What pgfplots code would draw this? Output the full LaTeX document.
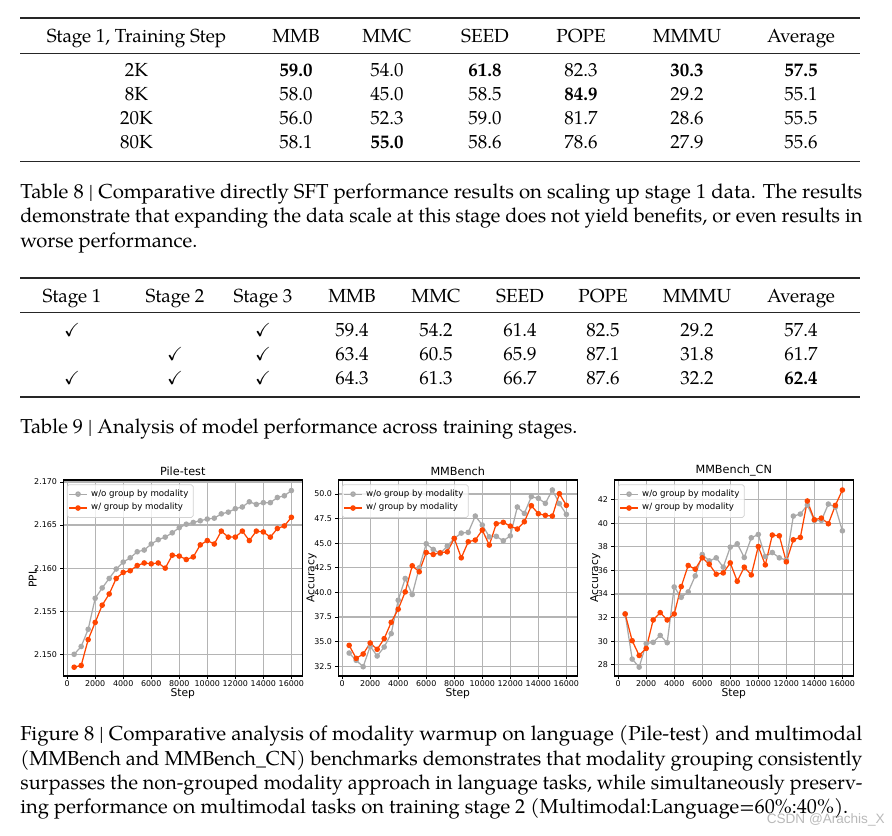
\documentclass[border=0pt]{standalone}
\usepackage{fontspec}
\setmainfont{TeX Gyre Pagella}
\newfontfamily\plotfont{DejaVu Sans}
\newfontfamily\wmfont{Liberation Sans}
\usepackage{amssymb}
\usepackage{graphicx}
\usepackage{pgfplots}
\usepackage{pgfplotstable}
\pgfplotsset{compat=1.18}
\definecolor{wo}{HTML}{A9A9A9}
\definecolor{wg}{HTML}{FF4500}
\definecolor{gridc}{HTML}{B4B4B4}

\pgfplotstableread{
x a b
500 2.1500 2.1485
1000 2.1509 2.1487
1500 2.1529 2.1517
2000 2.1565 2.1537
2500 2.1577 2.1557
3000 2.1588 2.1570
3500 2.1599 2.1588
4000 2.1607 2.1595
4500 2.1612 2.1597
5000 2.1619 2.1603
5500 2.1621 2.1606
6000 2.1628 2.1605
6500 2.1633 2.1606
7000 2.1636 2.1600
7500 2.1641 2.1615
8000 2.1647 2.1614
8500 2.1651 2.1610
9000 2.1653 2.1613
9500 2.1655 2.1627
10000 2.1657 2.1632
10500 2.1658 2.1628
11000 2.1663 2.1643
11500 2.1665 2.1636
12000 2.1669 2.1636
12500 2.1671 2.1643
13000 2.1677 2.1632
13500 2.1674 2.1643
14000 2.1676 2.1642
14500 2.1676 2.1636
15000 2.1682 2.1646
15500 2.1684 2.1649
16000 2.1690 2.1659
}\piletab

\pgfplotstableread{
x a b
500 33.85 34.63
1000 33.11 33.31
1500 32.46 33.75
2000 34.53 34.87
2500 33.55 34.23
3000 34.46 35.31
3500 35.82 36.97
4000 39.21 38.30
4500 41.42 40.06
5000 39.79 42.71
5500 42.50 42.10
6000 44.95 44.06
6500 44.37 43.86
7000 43.96 44.03
7500 44.71 44.13
8000 45.49 45.49
8500 46.03 43.52
9000 46.10 45.15
9500 47.76 45.32
10000 46.85 46.34
10500 45.65 44.81
11000 45.70 46.98
11500 45.25 47.12
12000 45.75 46.74
12500 48.68 46.44
13000 48.03 47.18
13500 49.73 48.81
14000 49.56 48.00
14500 49.05 47.83
15000 50.41 47.76
15500 49.02 50.03
16000 47.93 48.85
}\mmbtab

\pgfplotstableread{
x a b
500 32.31 32.31
1000 28.48 30.04
1500 27.80 28.79
2000 29.79 29.39
2500 29.90 31.80
3000 30.49 32.42
3500 29.87 31.80
4000 34.60 32.31
4500 33.72 34.63
5000 34.18 36.42
5500 35.54 36.11
6000 37.35 37.07
6500 36.81 36.53
7000 37.07 35.68
7500 36.28 35.79
8000 37.98 36.64
8500 38.26 35.08
9000 37.10 36.28
9500 38.77 35.62
10000 39.05 38.03
10500 37.18 36.47
11000 37.52 39.00
11500 37.07 38.94
12000 36.87 36.73
12500 40.61 38.60
13000 40.78 38.80
13500 41.55 41.89
14000 40.24 40.30
14500 40.24 40.44
15000 41.63 39.96
15500 41.38 41.52
16000 39.36 42.82
}\cntab

\pgfplotsset{mmstyle/.style={
  scale only axis, width=133.8pt, height=109.8pt,
  xmin=-275, xmax=16775,
  scaled x ticks=false, scaled y ticks=false,
  xtick={0,2000,4000,6000,8000,10000,12000,14000,16000},
  xticklabels={0,2000,4000,6000,8000,10000,12000,14000,16000},
  grid=major, major grid style={gridc, line width=0.7pt},
  axis line style={black, line width=0.8pt},
  tick align=outside, major tick length=1.8pt,
  tick style={black, line width=0.5pt},
  xtick pos=left, ytick pos=left,
  tick label style={font=\plotfont\fontsize{4.45}{5.1}\selectfont},
  xticklabel style={yshift=3pt},
  yticklabel style={xshift=1.8pt},
  label style={font=\plotfont\fontsize{6}{7}\selectfont},
  xlabel style={yshift=5.6pt},
  ylabel style={yshift=-8.2pt},
  title style={font=\plotfont\fontsize{6.3}{7}\selectfont, yshift=-7.3pt},
  xlabel={Step},
  legend style={at={(0.015,0.978)}, anchor=north west, draw=gray!35,
    fill=white, fill opacity=0.8, text opacity=1, rounded corners=1pt,
    font=\plotfont\fontsize{4.85}{5.5}\selectfont, inner sep=0.7pt,
    row sep=-1.4pt, cells={anchor=west}},
  legend image code/.code={\draw[mark repeat=2,mark phase=2,##1] plot coordinates {(0pt,0pt)(5pt,0pt)(10pt,0pt)};},
}}
\pgfplotsset{wostyle/.style={color=wo, line width=0.7pt, mark=*, mark size=1.2pt, mark options={solid}},
  wgstyle/.style={color=wg, line width=0.7pt, mark=*, mark size=1.2pt, mark options={solid}}}

\newcommand\tabfont{\fontsize{10.6}{12}\selectfont}
\newcommand\capfont{\fontsize{11.3}{13}\selectfont}

\begin{document}
\begin{tikzpicture}[x=0.56pt,y=-0.56pt]
\useasboundingbox (0,0) rectangle (892,835);
\coordinate (P1) at (63.3,480);
\coordinate (P2) at (338.3,480);
\coordinate (P3) at (614.3,480);

% ---------- Table 8 ----------
\draw[black!85, line width=1.1pt] (20,18.3) -- (860,18.3);
\draw[black!85, line width=0.6pt] (20,53.3) -- (860,53.3);
\draw[black!85, line width=1.1pt] (20,161.5) -- (860,161.5);
\begin{scope}[every node/.style={anchor=base, inner sep=0pt, font=\tabfont}]
\node at (136.5,42.7) {Stage 1, Training Step};
\node at (296,42.7) {MMB};
\node at (387,42.7) {MMC};
\node at (485,42.7) {SEED};
\node at (581,42.7) {POPE};
\node at (687,42.7) {MMMU};
\node at (801,42.7) {Average};
% rows
\node at (136.5,77) {2K};
\node at (296,77) {\textbf{59.0}};
\node at (387,77) {54.0};
\node at (485,77) {\textbf{61.8}};
\node at (581,77) {82.3};
\node at (687,77) {\textbf{30.3}};
\node at (801,77) {\textbf{57.5}};
\node at (136.5,100.8) {8K};
\node at (296,100.8) {58.0};
\node at (387,100.8) {45.0};
\node at (485,100.8) {58.5};
\node at (581,100.8) {\textbf{84.9}};
\node at (687,100.8) {29.2};
\node at (801,100.8) {55.1};
\node at (136.5,124.6) {20K};
\node at (296,124.6) {56.0};
\node at (387,124.6) {52.3};
\node at (485,124.6) {59.0};
\node at (581,124.6) {81.7};
\node at (687,124.6) {28.6};
\node at (801,124.6) {55.5};
\node at (136.5,148.4) {80K};
\node at (296,148.4) {58.1};
\node at (387,148.4) {\textbf{55.0}};
\node at (485,148.4) {58.6};
\node at (581,148.4) {78.6};
\node at (687,148.4) {27.9};
\node at (801,148.4) {55.6};
\end{scope}

% caption Table 8
\begin{scope}[every node/.style={anchor=base west, inner sep=0pt, font=\capfont}]
\node at (20,198) {\resizebox{471.5pt}{\height}{Table 8 | Comparative directly SFT performance results on scaling up stage 1 data. The results}};
\node at (20,222.5) {\resizebox{471.5pt}{\height}{demonstrate that expanding the data scale at this stage does not yield benefits, or even results in}};
\node at (20,247) {worse performance.};
\end{scope}

% ---------- Table 9 ----------
\draw[black!85, line width=1.1pt] (20,278.3) -- (860,278.3);
\draw[black!85, line width=0.6pt] (20,312.7) -- (860,312.7);
\draw[black!85, line width=1.1pt] (20,396.7) -- (860,396.7);
\begin{scope}[every node/.style={anchor=base, inner sep=0pt, font=\tabfont}]
\node at (72,302.7) {Stage 1};
\node at (175,302.7) {Stage 2};
\node at (263,302.7) {Stage 3};
\node at (352,302.7) {MMB};
\node at (436,302.7) {MMC};
\node at (520,302.7) {SEED};
\node at (603,302.7) {POPE};
\node at (697,302.7) {MMMU};
\node at (801,302.7) {Average};
\node at (72,336) {$\checkmark$};
\node at (263,336) {$\checkmark$};
\node at (352,336) {59.4};
\node at (436,336) {54.2};
\node at (520,336) {61.4};
\node at (603,336) {82.5};
\node at (697,336) {29.2};
\node at (801,336) {57.4};
\node at (175,360.2) {$\checkmark$};
\node at (263,360.2) {$\checkmark$};
\node at (352,360.2) {63.4};
\node at (436,360.2) {60.5};
\node at (520,360.2) {65.9};
\node at (603,360.2) {87.1};
\node at (697,360.2) {31.8};
\node at (801,360.2) {61.7};
\node at (72,384.3) {$\checkmark$};
\node at (175,384.3) {$\checkmark$};
\node at (263,384.3) {$\checkmark$};
\node at (352,384.3) {64.3};
\node at (436,384.3) {61.3};
\node at (520,384.3) {66.7};
\node at (603,384.3) {87.6};
\node at (697,384.3) {32.2};
\node at (801,384.3) {\textbf{62.4}};
\end{scope}
\node[anchor=base west, inner sep=0pt, font=\capfont] at (20,433.5) {Table 9 | Analysis of model performance across training stages.};

% ---------- Plots ----------
\begin{axis}[mmstyle, at={(P1)}, anchor=north west,
  title={Pile-test}, ylabel={PPL},
  ymin=2.14747, ymax=2.17023,
  ytick={2.150,2.155,2.160,2.165,2.170},
  yticklabels={2.150,2.155,2.160,2.165,2.170}]
\addplot[wostyle] table[x=x,y=a] {\piletab};
\addlegendentry{w/o group by modality}
\addplot[wgstyle] table[x=x,y=b] {\piletab};
\addlegendentry{w/ group by modality}
\end{axis}

\begin{axis}[mmstyle, at={(P2)}, anchor=north west,
  title={MMBench}, ylabel={Accuracy},
  ymin=31.51, ymax=51.42,
  ytick={32.5,35,37.5,40,42.5,45,47.5,50},
  yticklabels={32.5,35.0,37.5,40.0,42.5,45.0,47.5,50.0}]
\addplot[wostyle] table[x=x,y=a] {\mmbtab};
\addlegendentry{w/o group by modality}
\addplot[wgstyle] table[x=x,y=b] {\mmbtab};
\addlegendentry{w/ group by modality}
\end{axis}

\begin{axis}[mmstyle, at={(P3)}, anchor=north west,
  title={MMBench\_CN}, ylabel={Accuracy},
  ymin=27.04, ymax=43.67,
  ytick={28,30,32,34,36,38,40,42},
  yticklabels={28,30,32,34,36,38,40,42}]
\addplot[wostyle] table[x=x,y=a] {\cntab};
\addlegendentry{w/o group by modality}
\addplot[wgstyle] table[x=x,y=b] {\cntab};
\addlegendentry{w/ group by modality}
\end{axis}

% ---------- Figure caption ----------
\begin{scope}[every node/.style={anchor=base west, inner sep=0pt, font=\capfont}]
\node at (20,740.5) {\resizebox{471.5pt}{\height}{Figure 8 | Comparative analysis of modality warmup on language (Pile-test) and multimodal}};
\node at (20,765) {\resizebox{471.5pt}{\height}{(MMBench and MMBench\_CN) benchmarks demonstrates that modality grouping consistently}};
\node at (20,789.4) {\resizebox{471.5pt}{\height}{surpasses the non-grouped modality approach in language tasks, while simultaneously preserv-}};
\node at (20,813.8) {ing performance on multimodal tasks on training stage 2 (Multimodal:Language=60\%:40\%).};
\end{scope}
\node[anchor=base east, inner sep=0pt, text=gray!55, font=\wmfont\fontsize{7.6}{8}\selectfont] at (885,823) {CSDN @Arachis\_X};
\end{tikzpicture}
\end{document}
